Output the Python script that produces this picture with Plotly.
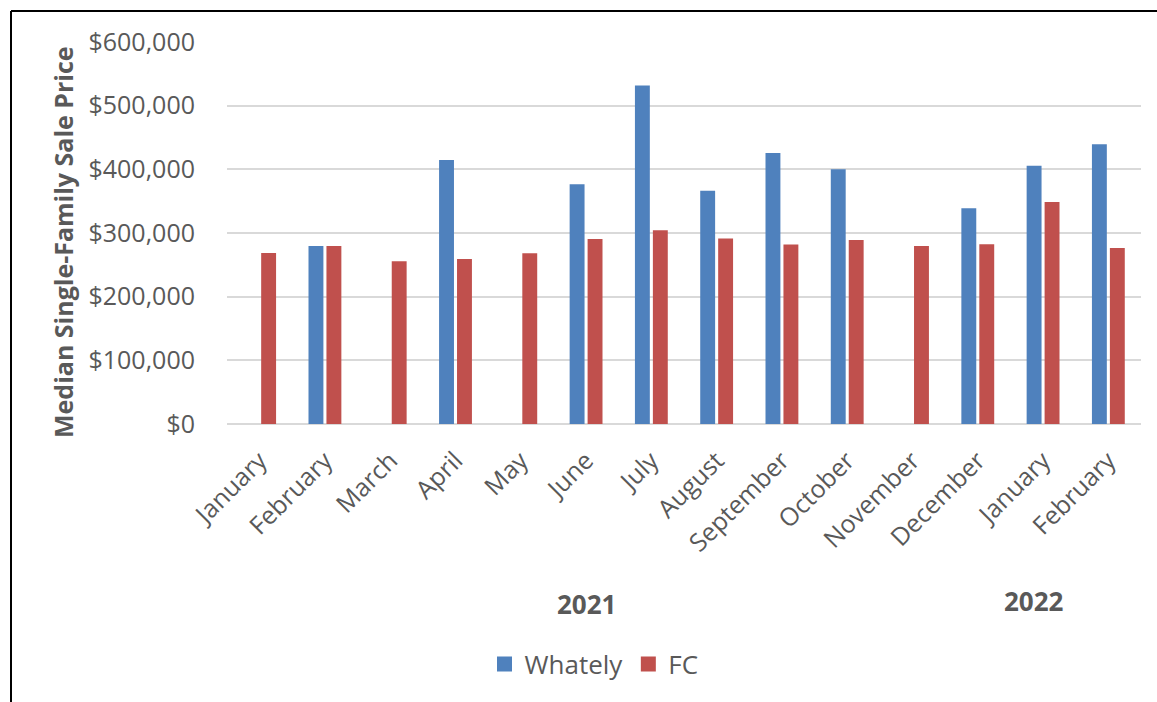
import plotly.graph_objects as go

# Month labels along the category axis (Jan 2021 – Feb 2022)
months = ["January", "February", "March", "April", "May", "June", "July",
          "August", "September", "October", "November", "December",
          "January", "February"]
positions = list(range(len(months)))

# Median single-family sale prices (None = no sales that month)
whately = [None, 279500, None, 414500, None, 376500, 531500,
           366500, 425500, 400000, None, 339000, 405500, 439500]
fc = [268500, 279500, 255500, 259000, 268000, 290500, 304500,
      291500, 282000, 289000, 279500, 282500, 348500, 276500]

y_ticks = [0, 100000, 200000, 300000, 400000, 500000, 600000]
y_tick_text = ["$0", "$100,000", "$200,000", "$300,000", "$400,000",
               "$500,000", "$600,000"]

years = ["2021", "2022"]

BLUE = "#4F81BD"
RED = "#C0504D"
GREY = "#595959"
FONT = "Open Sans"

W, H = 1157, 702
L, R, T, B = 227, 16, 42, 278
pw, ph = W - L - R, H - T - B


def px_x(x):
    return (x - L) / pw


def px_y(y):
    return (H - B - y) / ph


fig = go.Figure()
fig.add_trace(go.Bar(x=positions, y=whately, name="Whately",
                     marker=dict(color=BLUE, line=dict(width=0)),
                     showlegend=False))
fig.add_trace(go.Bar(x=positions, y=fc, name="FC",
                     marker=dict(color=RED, line=dict(width=0)),
                     showlegend=False))

# Legend entries drawn as square swatches
for name, color in [("Whately", BLUE), ("FC", RED)]:
    fig.add_trace(go.Scatter(
        x=[None], y=[None], mode="markers", name=name,
        marker=dict(symbol="square", size=15, color=color),
        showlegend=True, hoverinfo="skip",
    ))

fig.update_layout(
    width=W, height=H,
    margin=dict(l=L, r=R, t=T, b=B, autoexpand=False),
    paper_bgcolor="white", plot_bgcolor="white",
    barmode="group", bargap=0.45, bargroupgap=0.17,
    font=dict(family=FONT, color=GREY, size=25),
    showlegend=True,
    legend=dict(orientation="h", x=px_x(594), xanchor="center",
                y=px_y(664), yanchor="middle",
                font=dict(family=FONT, size=26, color=GREY),
                itemwidth=30, traceorder="normal"),
    xaxis=dict(
        tickmode="array", tickvals=positions, ticktext=months,
        tickangle=-45, range=[-0.5, len(months) - 0.5],
        showgrid=False, zeroline=False,
        showline=False,
        ticks="outside", ticklen=11, tickcolor="rgba(0,0,0,0)",
        tickfont=dict(family=FONT, size=25, color=GREY),
    ),
    yaxis=dict(
        range=[0, 600000], tickmode="array", tickvals=y_ticks,
        ticktext=y_tick_text,
        showgrid=True, gridcolor="#D9D9D9", gridwidth=1.5,
        zeroline=True, zerolinecolor="#D9D9D9", zerolinewidth=2,
        ticks="outside", ticklen=26, tickcolor="rgba(0,0,0,0)",
        tickfont=dict(family=FONT, size=25, color=GREY),
    ),
)

# Vertical axis title
fig.add_annotation(
    text="<b>Median Single-Family Sale Price</b>", textangle=-90,
    xref="paper", yref="paper", x=px_x(63), y=px_y(242),
    xanchor="center", yanchor="middle", showarrow=False,
    font=dict(family=FONT, size=25, color=GREY),
)

# Year group labels beneath the month labels
for label, cx, cy in zip(years, [586, 1034], [604, 601]):
    fig.add_annotation(
        text=f"<b>{label}</b>", xref="paper", yref="paper",
        x=px_x(cx), y=px_y(cy), xanchor="center", yanchor="middle",
        showarrow=False, font=dict(family=FONT, size=26, color=GREY),
    )

# Black frame along the top and left edges
fig.add_shape(type="line", xref="paper", yref="paper",
              x0=px_x(11), x1=px_x(W + 5), y0=px_y(11), y1=px_y(11),
              line=dict(color="black", width=2))
fig.add_shape(type="line", xref="paper", yref="paper",
              x0=px_x(11), x1=px_x(11), y0=px_y(11), y1=px_y(H + 5),
              line=dict(color="black", width=2))

fig.write_html("out.html")
